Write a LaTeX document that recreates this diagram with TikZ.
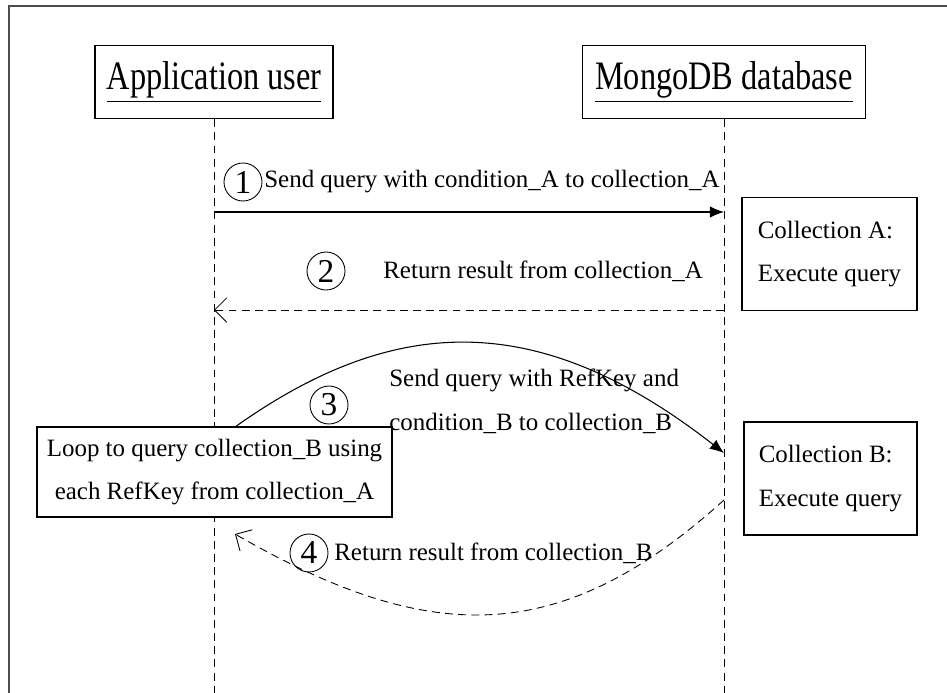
\documentclass[tikz,border=0pt]{standalone}
\usepackage{fontspec}
\setmainfont{Liberation Serif}
\usetikzlibrary{arrows.meta}

\newcommand{\bodyfont}{\fontsize{14.2pt}{25pt}\selectfont}
\newcommand{\headtext}[1]{\scalebox{0.8}[1]{\fontsize{23pt}{26pt}\selectfont\underline{#1}}}

\tikzset{
  box/.style={draw, line width=0.8pt, fill=white, inner sep=0pt},
  life/.style={dash pattern=on 4.5pt off 3pt, line width=0.5pt},
  call/.style={-{Latex[length=8pt,width=6.5pt]}, line width=0.6pt},
  reply/.style={-{Straight Barb[length=7pt,width=14pt]}, dash pattern=on 4.5pt off 3pt, line width=0.5pt},
  num/.style={circle, draw, line width=0.5pt, minimum size=0.76cm, inner sep=0pt,
    font=\fontsize{19pt}{20pt}\selectfont},
}

\begin{document}
\begin{tikzpicture}[x=0.02cm, y=-0.02cm, font=\bodyfont]
  \useasboundingbox (0,0) rectangle (947,693);
  % frame, cut off at right and bottom
  \draw[black!70, line width=0.6pt] (9,693) -- (9,6) -- (947,6);

  % actors
  \node[box, minimum width=4.76cm, minimum height=1.46cm] (user) at (214,82)
    {\headtext{Application user}};
  \node[box, minimum width=5.66cm, minimum height=1.46cm] (mongo) at (724,82)
    {\headtext{MongoDB database}};
  \coordinate (userend) at (214,693);
  \coordinate (mongoend) at (724,693);
  \draw[life] (user) -- (userend);
  \draw[life] (mongo) -- (mongoend);

  % step 1
  \coordinate (q1s) at (214,212);
  \coordinate (q1e) at (724,212);
  \draw[call] (q1s) -- (q1e);
  \node[num] (n1) at (243,182) {1};
  \node[anchor=west, inner sep=0pt] (t1) at (264,182)
    {Send query with condition\_A to collection\_A};
  \node[box, minimum width=3.5cm, minimum height=2.26cm, align=left] (colA) at (829.5,254)
    {Collection A:\\Execute query};

  % step 2
  \coordinate (r1s) at (724,310);
  \coordinate (r1e) at (214,310);
  \draw[reply] (r1s) -- (r1e);
  \node[num] (n2) at (326,271) {2};
  \node[anchor=west, inner sep=0pt] (t2) at (383,271)
    {Return result from collection\_A};

  % step 3
  \node[box, minimum width=7.1cm, minimum height=1.8cm, align=center] (loop) at (214.5,472)
    {Loop to query collection\_B using\\each RefKey from collection\_A};
  \coordinate (q2s) at (235,427);
  \coordinate (q2e) at (724,453);
  \draw[call] (q2s) .. controls (398,311) and (542,311) .. (q2e);
  \node[num] (n3) at (329,405) {3};
  \node[anchor=west, align=left, inner sep=0pt] (t3) at (389,401)
    {Send query with RefKey and\\condition\_B to collection\_B};
  \node[box, minimum width=3.46cm, minimum height=2.26cm, align=left] (colB) at (830.5,478.5)
    {Collection B:\\Execute query};

  % step 4
  \coordinate (r2s) at (724,500);
  \coordinate (r2e) at (235,534);
  \draw[reply] (r2s) .. controls (561,647) and (431,647) .. (r2e);
  \node[num] (n4) at (309,553) {4};
  \node[anchor=west, inner sep=0pt] (t4) at (334,553)
    {Return result from collection\_B};
\end{tikzpicture}
\end{document}
